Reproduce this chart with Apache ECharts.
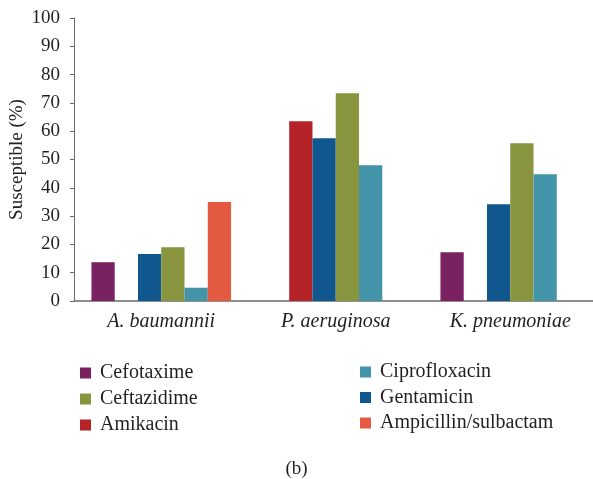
<!DOCTYPE html>
<html>
<head>
<meta charset="utf-8">
<script src="https://cdn.jsdelivr.net/npm/echarts@6/dist/echarts.min.js"></script>
<style>
html,body{margin:0;padding:0;background:#fff;}
#c{width:593px;height:479px;}
</style>
</head>
<body>
<div id="c"></div>
<script>
const categories = ['A. baumannii', 'P. aeruginosa', 'K. pneumoniae'];
const seriesNames = ['Cefotaxime', 'Amikacin', 'Gentamicin', 'Ceftazidime', 'Ciprofloxacin', 'Ampicillin/sulbactam'];
const cefotaxime = [13.7, 0, 17.2];
const amikacin = [0, 63.5, 0];
const gentamicin = [16.6, 57.5, 34.2];
const ceftazidime = [19.0, 73.4, 55.7];
const ciprofloxacin = [4.7, 48.0, 44.8];
const ampicillinSulbactam = [35.0, 0, 0];
const colors = ['#7a2161', '#b52329', '#10568f', '#88953e', '#4394a8', '#e35a41'];
const yTicks = [0, 10, 20, 30, 40, 50, 60, 70, 80, 90, 100];
const legendLeft = ['Cefotaxime', 'Ceftazidime', 'Amikacin'];
const legendRight = ['Ciprofloxacin', 'Gentamicin', 'Ampicillin/sulbactam'];
const caption = '(b)';

const values = [cefotaxime, amikacin, gentamicin, ceftazidime, ciprofloxacin, ampicillinSulbactam];
const font = '"Liberation Serif", "DejaVu Serif", serif';
const textColor = '#231f20';

const chart = echarts.init(document.getElementById('c'), null, {renderer: 'canvas'});
const legendText = {fontFamily: font, fontSize: 20, color: textColor, lineHeight: 20, padding: [0, 0, 0, 4]};
chart.setOption({
  animation: false,
  backgroundColor: '#fff',
  color: colors,
  title: {
    text: caption, left: 'center', top: 455,
    textStyle: {fontFamily: font, fontSize: 19, fontWeight: 'normal', color: textColor}
  },
  legend: [
    {data: legendLeft, orient: 'vertical', left: 75, top: 358, itemWidth: 11, itemHeight: 11, itemGap: 6,
     icon: 'rect', textStyle: legendText, selectedMode: false},
    {data: legendRight, orient: 'vertical', left: 355, top: 357, itemWidth: 11, itemHeight: 11, itemGap: 5.5,
     icon: 'rect', textStyle: legendText, selectedMode: false}
  ],
  grid: {left: 74, top: 18, right: -4.5, bottom: 178, containLabel: false, outerBoundsMode: 'none'},
  xAxis: {
    type: 'category', data: categories,
    axisLine: {lineStyle: {color: '#6b6b6b', width: 1.5}},
    axisTick: {show: false},
    axisLabel: {fontFamily: font, fontStyle: 'italic', fontSize: 20, color: textColor, margin: 11}
  },
  yAxis: {
    type: 'value', min: 0, max: 100, interval: 10,
    name: 'Susceptible (%)', nameLocation: 'middle', nameGap: 47, nameMoveOverlap: false,
    nameTextStyle: {fontFamily: font, fontSize: 19, color: textColor},
    axisLine: {show: true, lineStyle: {color: '#6b6b6b', width: 1}},
    axisTick: {show: true, length: 4, lineStyle: {color: '#6b6b6b'}},
    splitLine: {show: false},
    axisLabel: {fontFamily: font, fontSize: 19, color: textColor, margin: 14,
      formatter: v => yTicks.includes(v) ? String(v) : ''}
  },
  series: seriesNames.map((n, i) => ({
    name: n, type: 'bar', data: values[i], barGap: '0%', barCategoryGap: '20%',
    itemStyle: {color: colors[i]}
  }))
});
</script>
</body>
</html>
